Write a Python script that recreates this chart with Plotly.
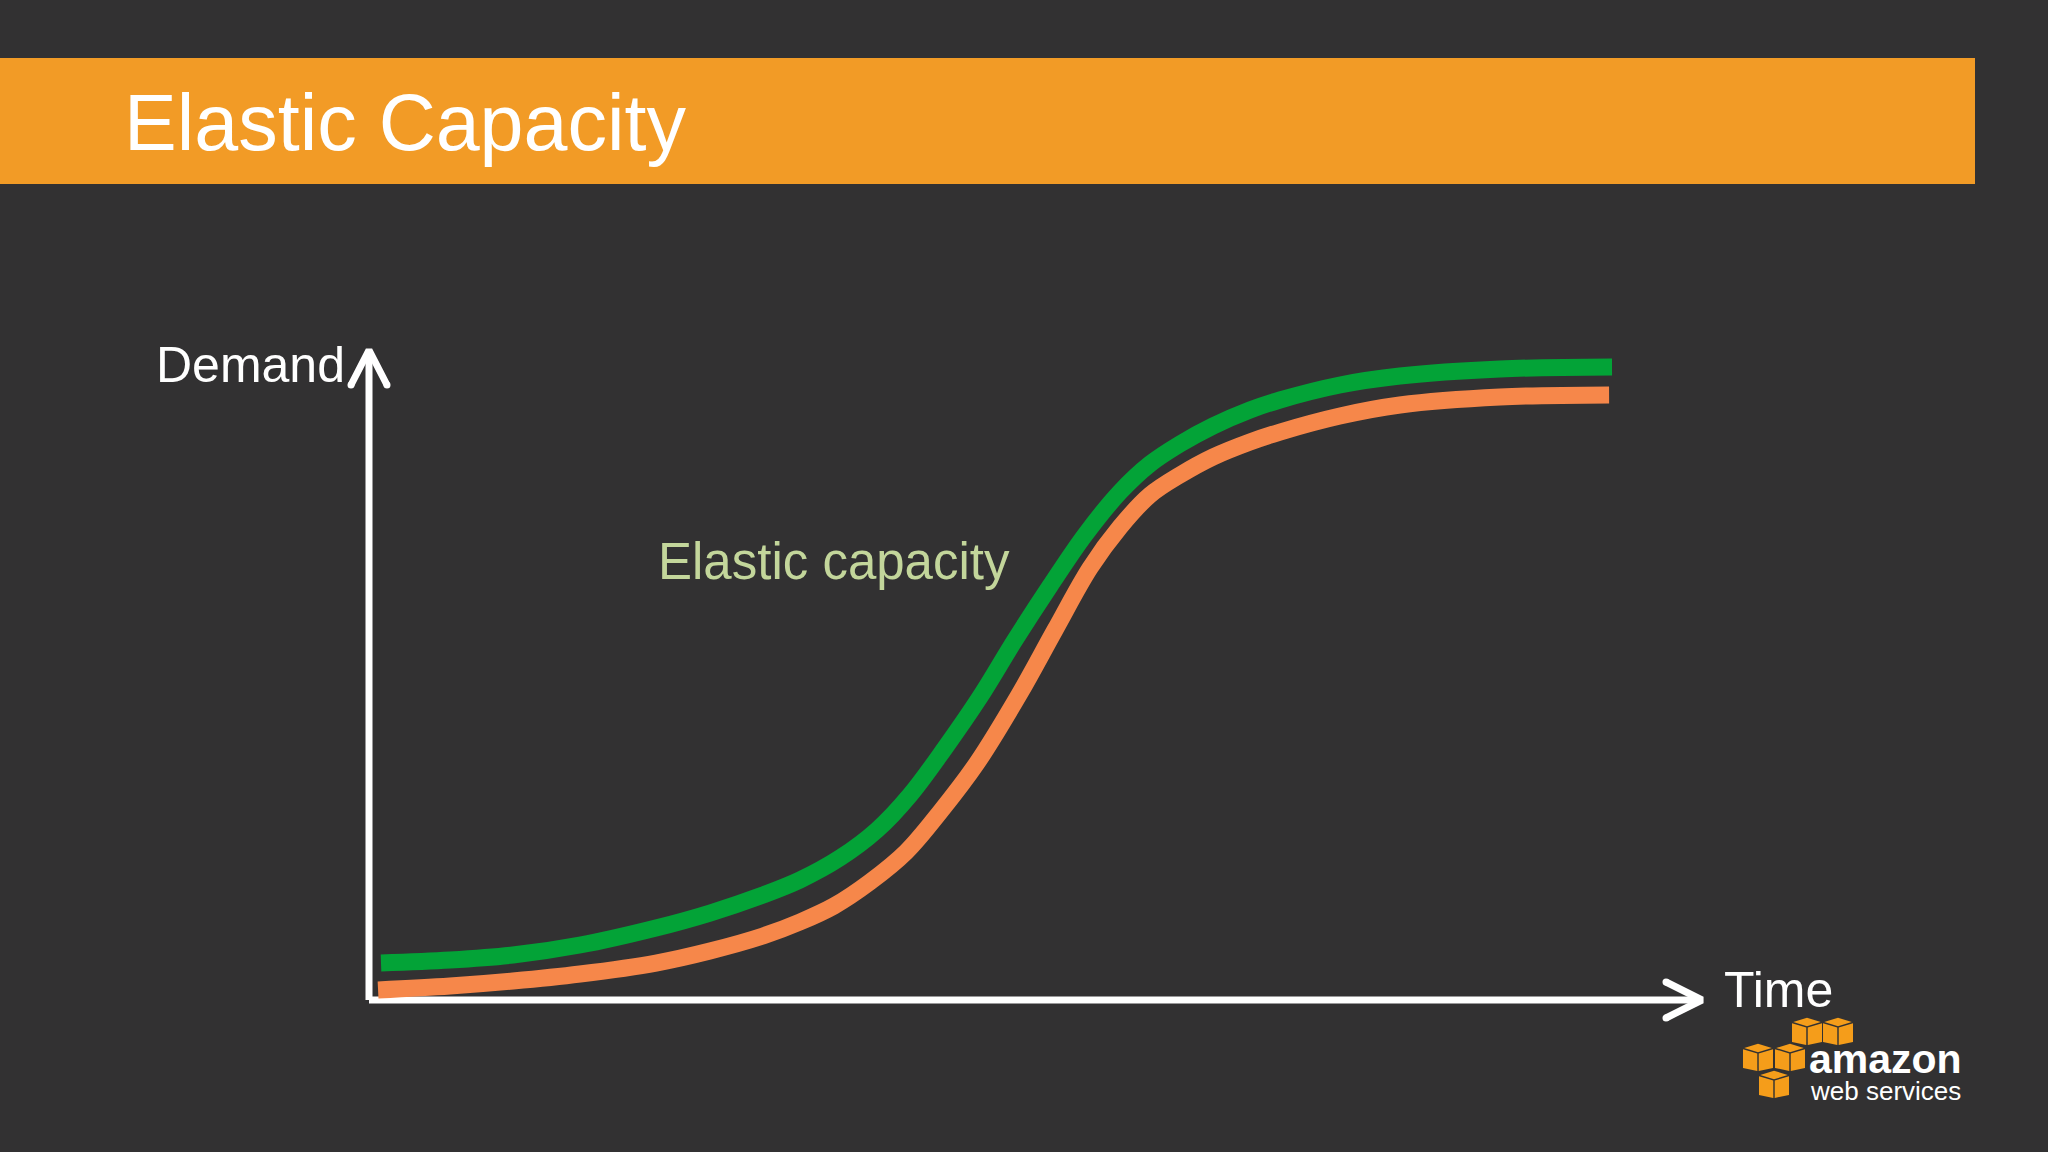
import plotly.graph_objects as go

# ---------------- data ----------------
capacity_time = [0.90, 6.08, 10.80, 15.83, 21.53, 25.58, 29.56, 32.33, 35.33, 38.11,
                 40.59, 43.21, 45.84, 48.46, 51.09, 53.71, 56.34, 58.59, 60.84, 63.32,
                 66.09, 68.34, 72.84, 77.34, 84.85, 93.25]
capacity_level = [5.69, 6.15, 6.92, 8.46, 11.08, 13.38, 16.15, 18.46, 21.85, 26.15,
                  31.54, 38.77, 46.62, 55.38, 63.69, 71.54, 78.15, 82.46, 85.54, 88.31,
                  90.77, 92.31, 94.62, 96.00, 97.08, 97.38]

demand_time = [0.68, 6.08, 10.80, 15.83, 21.53, 25.58, 29.56, 32.33, 34.88, 37.58,
               40.29, 42.84, 45.61, 48.84, 51.46, 54.09, 56.34, 58.59, 60.84, 63.32,
               66.09, 68.34, 72.84, 77.34, 84.85, 93.03]
demand_level = [1.54, 2.15, 2.92, 4.00, 5.69, 7.54, 9.85, 12.00, 14.46, 18.15,
                22.77, 28.92, 36.46, 47.23, 56.92, 66.46, 72.77, 77.69, 80.77, 83.54,
                85.85, 87.38, 89.85, 91.54, 92.77, 93.08]

title_text = "Elastic Capacity"
y_label = "Demand"
x_label = "Time"
series_label = "Elastic capacity"

# ---------------- styling ----------------
W, H = 2048, 1152
BG = "#323132"
BANNER = "#f29b26"
GREEN = "#03a337"
ORANGE = "#f6874a"
LABEL_GREEN = "#c3d69b"
AWS_ORANGE = "#f59d1a"
FONT = "Liberation Sans, Arial, sans-serif"

# pixel geometry of the axes (origin and arrow tips)
X0_PX, X100_PX = 369.0, 1702.0
Y0_PX, Y100_PX = 1000.0, 350.0
XR = (-5, 105)
YR = (-5, 105)
xu = (X100_PX - X0_PX) / 100.0
yu = (Y0_PX - Y100_PX) / 100.0
xdom = [(X0_PX + XR[0] * xu) / W, (X0_PX + XR[1] * xu) / W]
ydom = [(H - (Y0_PX - YR[0] * yu)) / H, (H - (Y0_PX - YR[1] * yu)) / H]


def px(x):
    return x / W


def py(y):
    return (H - y) / H


fig = go.Figure()

# axes with chevron arrowheads (in data units)
AX_W = 7
wing_dx = 18 / xu
wing_dy = 18 / yu
head_len_y = 35 / yu
head_len_x = 36 / xu
axis_paths = [
    ([0, 0], [0, 100]),
    ([0, 100], [0, 0]),
    ([-wing_dx, 0, wing_dx], [100 - head_len_y, 100, 100 - head_len_y]),
    ([100 - head_len_x, 100, 100 - head_len_x], [wing_dy, 0, -wing_dy]),
]
for xs, ys in axis_paths:
    fig.add_trace(go.Scatter(x=xs, y=ys, mode="lines",
                             line=dict(color="white", width=AX_W),
                             hoverinfo="skip", showlegend=False, cliponaxis=False))
# round caps at chevron wing ends
fig.add_trace(go.Scatter(
    x=[-wing_dx, wing_dx, 100 - head_len_x, 100 - head_len_x],
    y=[100 - head_len_y, 100 - head_len_y, wing_dy, -wing_dy],
    mode="markers", marker=dict(color="white", size=AX_W, line=dict(width=0)),
    hoverinfo="skip", showlegend=False, cliponaxis=False))

# curves
fig.add_trace(go.Scatter(x=demand_time, y=demand_level, mode="lines",
                         line=dict(color=ORANGE, width=17, shape="spline", smoothing=1.0),
                         hoverinfo="skip", showlegend=False))
fig.add_trace(go.Scatter(x=capacity_time, y=capacity_level, mode="lines",
                         line=dict(color=GREEN, width=17, shape="spline", smoothing=1.0),
                         hoverinfo="skip", showlegend=False))

shapes = []
# title banner
shapes.append(dict(type="rect", xref="paper", yref="paper",
                   x0=0, x1=px(1975), y0=py(184), y1=py(58),
                   fillcolor=BANNER, line=dict(width=0), layer="below"))


# AWS logo cubes
def cube(x0, y0, w, h):
    cx = x0 + w / 2
    ht = h * 0.36
    g = 1.2
    top = [(x0 + g, y0 + ht / 2), (cx, y0 + g * 0.6), (x0 + w - g, y0 + ht / 2), (cx, y0 + ht - g * 0.6)]
    left = [(x0, y0 + ht / 2 + g), (cx - g * 0.6, y0 + ht + g * 0.3), (cx - g * 0.6, y0 + h), (x0, y0 + h - ht / 2 + 2)]
    right = [(cx + g * 0.6, y0 + ht + g * 0.3), (x0 + w, y0 + ht / 2 + g), (x0 + w, y0 + h - ht / 2 + 2), (cx + g * 0.6, y0 + h)]
    out = []
    for poly in (top, left, right):
        d = "M " + " L ".join(f"{px(a):.5f},{py(b):.5f}" for a, b in poly) + " Z"
        out.append(dict(type="path", xref="paper", yref="paper", path=d,
                        fillcolor=AWS_ORANGE, line=dict(width=0)))
    return out


for cx0, cy0 in [(1792, 1017), (1823, 1017), (1743, 1043), (1775, 1043), (1759, 1070)]:
    shapes += cube(cx0, cy0, 30, 28)

annotations = [
    dict(text=title_text, x=px(123), y=py(122.5), xanchor="left", yanchor="middle",
         font=dict(family=FONT, size=79, color="white")),
    dict(text=y_label, x=px(155), y=py(364.5), xanchor="left", yanchor="middle",
         font=dict(family=FONT, size=50, color="white")),
    dict(text=x_label, x=px(1723), y=py(990), xanchor="left", yanchor="middle",
         font=dict(family=FONT, size=50, color="white")),
    dict(text=series_label, x=px(657), y=py(561), xanchor="left", yanchor="middle",
         font=dict(family=FONT, size=51, color=LABEL_GREEN)),
    dict(text="<b>amazon</b>", x=px(1808), y=py(1059), xanchor="left", yanchor="middle",
         font=dict(family=FONT, size=41, color="white")),
    dict(text="web services", x=px(1809), y=py(1091), xanchor="left", yanchor="middle",
         font=dict(family=FONT, size=26, color="white")),
]
for a in annotations:
    a.update(xref="paper", yref="paper", showarrow=False, borderpad=0)

fig.update_layout(
    width=W, height=H,
    margin=dict(l=0, r=0, t=0, b=0),
    paper_bgcolor=BG, plot_bgcolor=BG,
    xaxis=dict(domain=xdom, range=list(XR), visible=False, fixedrange=True),
    yaxis=dict(domain=ydom, range=list(YR), visible=False, fixedrange=True),
    shapes=shapes,
    annotations=annotations,
    showlegend=False,
)

fig.write_html(
    "out.html",
    config={"displayModeBar": False},
    post_script="document.body.style.margin='0';document.body.style.overflow='hidden';"
                "document.body.style.background='" + BG + "';",
)
